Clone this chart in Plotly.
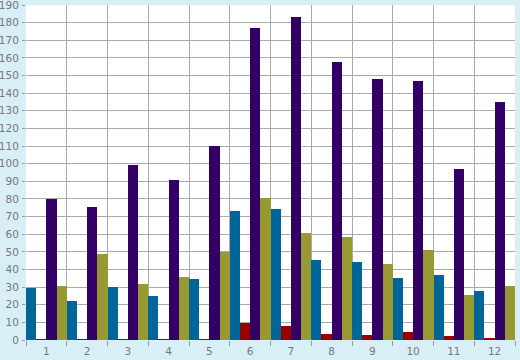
import plotly.graph_objects as go

categories = [str(i) for i in range(1, 13)]
teal = [29.7, 22.1, 30, 25, 34.6, 73.2, 74.3, 45.4, 44.2, 35.2, 36.9, 27.8]
red = [0.5, 0.4, 0.4, 0.4, 0.5, 9.8, 8, 3.4, 2.8, 4.5, 2.3, 0.7]
purple = [80, 75.4, 99.3, 90.8, 110, 177, 183.4, 157.9, 148, 147, 97, 135]
olive = [30.6, 48.8, 31.9, 35.7, 50, 80.5, 60.7, 58.4, 43.1, 51, 25.5, 30.6]
y_ticks = list(range(0, 200, 10))

series = [("A", teal, "#006699"), ("B", red, "#990000"),
          ("C", purple, "#330066"), ("D", olive, "#999933")]

fig = go.Figure()
for name, vals, col in series:
    fig.add_trace(go.Bar(x=categories, y=vals, name=name, marker_color=col,
                         marker_line_width=0, hoverinfo="skip"))

font = dict(family="DejaVu Sans", size=10.5, color="#777777")
fig.update_layout(
    width=520, height=360,
    margin=dict(l=26, r=5, t=5, b=20),
    paper_bgcolor="#d9eff7",
    plot_bgcolor="#ffffff",
    barmode="group", bargap=0, bargroupgap=0,
    showlegend=False,
    font=font,
    xaxis=dict(type="category", tickson="boundaries", showgrid=True,
               gridcolor="#aaaaaa", gridwidth=1, ticks="outside", ticklen=5,
               tickcolor="#999999", tickfont=font, showline=False,
               zeroline=False, automargin=False, ticklabeloverflow="allow",
               ticklabelstandoff=3),
    yaxis=dict(range=[0, 190], tickvals=y_ticks, showgrid=True,
               gridcolor="#aaaaaa", gridwidth=1, ticks="outside", ticklen=3,
               tickcolor="#999999", tickfont=font, zeroline=False,
               showline=False, automargin=False, ticklabelstandoff=1,
               ticklabeloverflow="allow"),
)
fig.write_html("out.html", config={"displayModeBar": False},
               post_script="document.body.style.margin='0';document.body.style.padding='0';")
